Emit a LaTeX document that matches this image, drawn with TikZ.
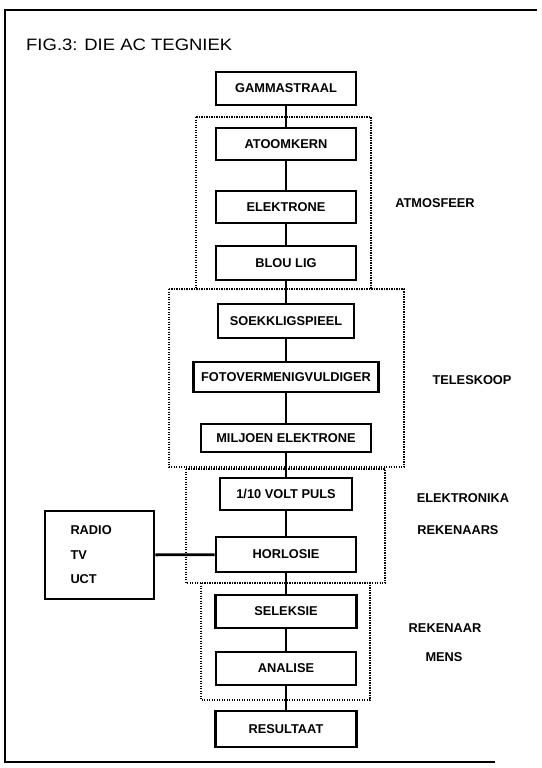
\documentclass[tikz,border=0pt]{standalone}
\usepackage{fontspec}
\setmainfont{Liberation Sans}
\newfontfamily\titlefont[FakeStretch=1.12]{Liberation Sans}
\begin{document}
\begin{tikzpicture}[x=1pt,y=-1pt,
  blk/.style={draw, line width=2.8pt, font=\bfseries\fontsize{12.8}{15}\selectfont, inner sep=0pt},
  conn/.style={line width=2.8pt},
  grp/.style={line width=2pt, dash pattern=on 1.2pt off 1.3pt},
  lbl/.style={font=\bfseries\fontsize{12.8}{15}\selectfont, inner sep=0pt},
  frame/.style={line width=2.6pt}]
\useasboundingbox (0,0) rectangle (541,768);
% outer frame
\draw[frame] (537,10) -- (5,10) -- (5,762) -- (495,762);
% title
\node[anchor=west, font=\titlefont\fontsize{16.5}{19}\selectfont, inner sep=0pt] (title) at (26,45) {FIG.3: DIE AC TEGNIEK};
% dotted groups
\draw[grp] (196,117) rectangle (371,289);
\draw[grp] (169,289) rectangle (404,467);
\draw[grp] (186,469) rectangle (385,583);
\draw[grp] (201,583) rectangle (370,700);
% boxes
\node[blk, minimum width=140pt, minimum height=33pt] (g) at (286,88.5) {GAMMASTRAAL};
\node[blk, minimum width=140pt, minimum height=32pt] (a) at (286,144) {ATOOMKERN};
\node[blk, minimum width=140pt, minimum height=32pt] (e) at (286,207) {ELEKTRONE};
\node[blk, minimum width=140pt, minimum height=34pt] (b) at (286,263) {BLOU LIG};
\node[blk, minimum width=136pt, minimum height=34pt] (s) at (286,321) {SOEKKLIGSPIEEL};
\node[blk, minimum width=185pt, minimum height=30pt] (f) at (286,377) {FOTOVERMENIGVULDIGER};
\node[blk, minimum width=170pt, minimum height=28pt] (m) at (286,438) {MILJOEN ELEKTRONE};
\node[blk, minimum width=132pt, minimum height=32pt] (v) at (286,494) {1/10 VOLT PULS};
\node[blk, minimum width=140pt, minimum height=35pt] (h) at (286,554.5) {HORLOSIE};
\node[blk, minimum width=141pt, minimum height=33pt] (sel) at (286,611.5) {SELEKSIE};
\node[blk, minimum width=140pt, minimum height=33pt] (an) at (286,668.5) {ANALISE};
\node[blk, minimum width=141pt, minimum height=36pt] (r) at (286,729) {RESULTAAT};
\node[draw, line width=2.8pt, minimum width=109pt, minimum height=88pt, text width=58pt, align=left,
  font=\bfseries\fontsize{12.8}{24.5}\selectfont, inner sep=0pt] (rad) at (99.5,555) {RADIO\\TV\\UCT};
% connectors
\draw[conn] (g) -- (a);
\draw[conn] (a) -- (e);
\draw[conn] (e) -- (b);
\draw[conn] (b) -- (s);
\draw[conn] (s) -- (f);
\draw[conn] (f) -- (m);
\draw[conn] (m) -- (v);
\draw[conn] (v) -- (h);
\draw[conn] (h) -- (sel);
\draw[conn] (sel) -- (an);
\draw[conn] (an) -- (r);
\draw[conn] (rad) -- (h);
% side labels
\node[lbl] (atm) at (435,203) {ATMOSFEER};
\node[lbl] (tel) at (472,380) {TELESKOOP};
\node[lbl] (elk) at (463,498) {ELEKTRONIKA};
\node[lbl] (rks) at (458,530) {REKENAARS};
\node[lbl] (rk) at (445,628) {REKENAAR};
\node[lbl] (mens) at (444,657) {MENS};
\end{tikzpicture}
\end{document}
